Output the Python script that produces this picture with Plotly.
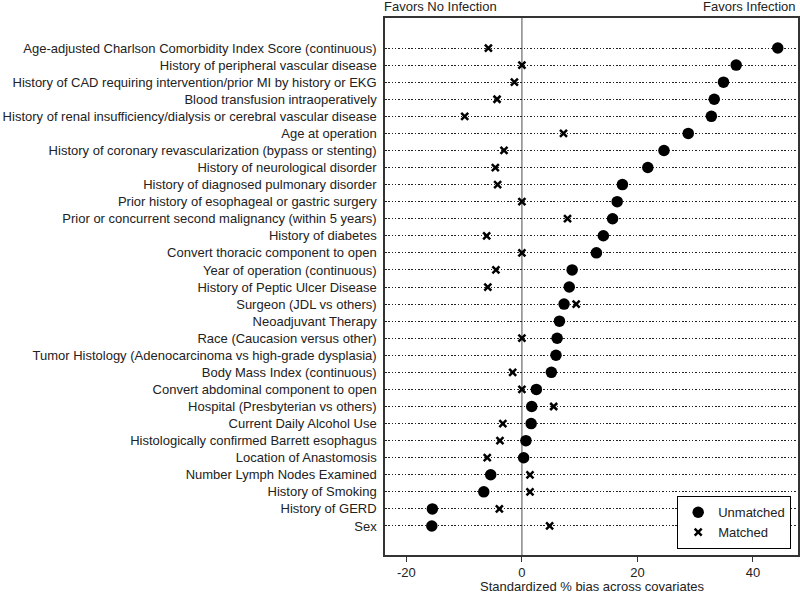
import plotly.graph_objects as go

covariates = [
    'Age-adjusted Charlson Comorbidity Index Score (continuous)',
    'History of peripheral vascular disease',
    'History of CAD requiring intervention/prior MI by history or EKG',
    'Blood transfusion intraoperatively',
    'History of renal insufficiency/dialysis or cerebral vascular disease',
    'Age at operation',
    'History of coronary revascularization (bypass or stenting)',
    'History of neurological disorder',
    'History of diagnosed pulmonary disorder',
    'Prior history of esophageal or gastric surgery',
    'Prior or concurrent second malignancy (within 5 years)',
    'History of diabetes',
    'Convert thoracic component to open',
    'Year of operation (continuous)',
    'History of Peptic Ulcer Disease',
    'Surgeon (JDL vs others)',
    'Neoadjuvant Therapy',
    'Race (Caucasion versus other)',
    'Tumor Histology (Adenocarcinoma vs high-grade dysplasia)',
    'Body Mass Index (continuous)',
    'Convert abdominal component to open',
    'Hospital (Presbyterian vs others)',
    'Current Daily Alcohol Use',
    'Histologically confirmed Barrett esophagus',
    'Location of Anastomosis',
    'Number Lymph Nodes Examined',
    'History of Smoking',
    'History of GERD',
    'Sex',
]

unmatched = [44.3, 37.1, 34.9, 33.3, 32.8, 28.8, 24.6, 21.8, 17.4, 16.5,
             15.7, 14.1, 12.9, 8.7, 8.2, 7.3, 6.5, 6.1, 5.9, 5.1,
             2.5, 1.7, 1.6, 0.7, 0.3, -5.4, -6.6, -15.5, -15.6]

# two matched markers sit hidden under the dots, so they are left out
matched = [-5.8, 0.0, -1.3, -4.3, -9.9, 7.2, -3.1, -4.6, -4.2, 0.0,
           7.9, -6.1, 0.0, -4.5, -5.9, 9.4, None, 0.0, None, -1.6,
           0.0, 5.5, -3.3, -3.8, -6.0, 1.4, 1.4, -3.9, 4.8]

x_ticks = [-20, 0, 20, 40]
x_tick_labels = ['-20', '0', '20', '40']

font = 'Arial, Liberation Sans, sans-serif'

fig = go.Figure()
fig.add_trace(go.Scatter(
    x=unmatched, y=covariates, mode='markers', name='Unmatched',
    marker=dict(symbol='circle', size=11.5, color='black'),
))
fig.add_trace(go.Scatter(
    x=matched, y=covariates, mode='markers', name='Matched',
    marker=dict(symbol='x-thin-open', size=7, color='black',
                line=dict(color='black', width=2.5)),
))

fig.add_vline(x=0, line=dict(color='#888888', width=1.5), layer='below')

fig.add_annotation(text='Favors No Infection', xref='paper', yref='paper',
                   x=0, y=1, xanchor='left', yanchor='bottom', yshift=2, xshift=-3,
                   showarrow=False, font=dict(size=13, color='#222'))
fig.add_annotation(text='Favors Infection', xref='paper', yref='paper',
                   x=1, y=1, xanchor='right', yanchor='bottom', yshift=2,
                   showarrow=False, font=dict(size=13, color='#222'))
# axis title as an annotation so it can sit close under the tick labels
fig.add_annotation(text='Standardized % bias across covariates', xref='paper', yref='paper',
                   x=0.502, y=0, xanchor='center', yanchor='bottom', yshift=-41,
                   showarrow=False, font=dict(size=13, color='#222'))

fig.update_layout(
    width=800, height=596,
    margin=dict(l=385, r=2, t=18, b=41),
    paper_bgcolor='white', plot_bgcolor='white',
    font=dict(family=font, size=13, color='#222'),
    showlegend=True,
    legend=dict(x=0.983, y=0.011, xanchor='right', yanchor='bottom',
                bgcolor='white', bordercolor='black', borderwidth=1.2,
                font=dict(size=13)),
    xaxis=dict(
        range=[-23.7, 47.8], tickvals=x_ticks, ticktext=x_tick_labels,
        ticks='outside', ticklen=5,
        tickcolor='#333', showgrid=False, zeroline=False, automargin=False,
        showline=True, linecolor='#333', linewidth=1.5, mirror=True,
        ticklabelstandoff=0, tickfont=dict(size=13),
    ),
    yaxis=dict(
        type='category', categoryorder='array', categoryarray=covariates,
        range=[29.70, -1.76], ticks='', ticklabelstandoff=4, automargin=False,
        showgrid=True, gridcolor='#222', griddash='1.5px,1.8px', gridwidth=1.4,
        zeroline=False, showline=True, linecolor='#333', linewidth=1.5,
        mirror=True, tickfont=dict(size=13),
    ),
)

fig.write_html('out.html', config={'displayModeBar': False},
               post_script="document.body.style.margin='0';")
